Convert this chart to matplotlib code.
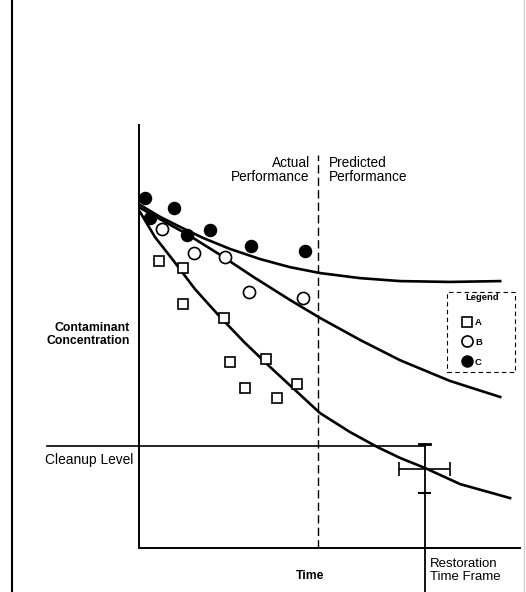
import matplotlib.pyplot as plt
from matplotlib.lines import Line2D
from matplotlib.patches import Rectangle

plt.rcParams['font.family'] = ['Liberation Sans', 'DejaVu Sans']

# monitoring data (time, concentration) in arbitrary units
a_time = [0.52, 1.15, 1.15, 2.23, 2.39, 3.33, 2.78, 3.62, 4.15]
a_conc = [6.78, 6.62, 5.77, 5.44, 4.40, 4.47, 3.78, 3.55, 3.88]
b_time = [0.60, 1.44, 2.26, 2.89, 4.30]
b_conc = [7.54, 6.97, 6.88, 6.05, 5.91]
c_time = [0.16, 0.29, 0.92, 1.26, 1.86, 2.94, 4.36]
c_conc = [8.27, 7.80, 8.04, 7.40, 7.52, 7.14, 7.02]

# trend curves
a_fit_t = [0.03, 0.42, 0.89, 1.47, 2.13, 2.78, 3.44, 4.09, 4.75, 5.54, 6.25, 6.85, 7.51, 8.43, 9.74]
a_fit_c = [7.94, 7.35, 6.81, 6.12, 5.46, 4.85, 4.28, 3.74, 3.19, 2.74, 2.39, 2.13, 1.89, 1.51, 1.18]
b_fit_t = [0.03, 0.68, 1.26, 2.13, 3.00, 3.97, 4.75, 5.80, 6.85, 8.16, 9.48]
b_fit_c = [8.04, 7.71, 7.42, 6.93, 6.41, 5.86, 5.44, 4.92, 4.44, 3.95, 3.57]
c_fit_t = [0.03, 0.55, 1.08, 1.68, 2.39, 3.18, 3.96, 4.75, 5.80, 6.85, 8.16, 9.48]
c_fit_c = [8.11, 7.83, 7.59, 7.33, 7.07, 6.83, 6.64, 6.50, 6.38, 6.31, 6.29, 6.31]

cleanup_level = 2.41
now_time = 4.7
restore_time = 7.5
restore_conc = 1.87
restore_xerr = 0.67
restore_lo = 1.30

fig = plt.figure(figsize=(5.26, 5.92), dpi=100)
W, H = 526, 592
ax = fig.add_axes([139 / W, (H - 548) / H, (520 - 139) / W, (548 - 125) / H])
ax.set_xlim(0, 10)
ax.set_ylim(0, 10)
ax.set_xticks([])
ax.set_yticks([])
ax.spines['top'].set_visible(False)
ax.spines['right'].set_visible(False)
ax.spines['left'].set_linewidth(1.4)
ax.spines['bottom'].set_linewidth(1.4)

ax.plot(a_fit_t, a_fit_c, color='black', lw=1.9)
ax.plot(b_fit_t, b_fit_c, color='black', lw=1.9)
ax.plot(c_fit_t, c_fit_c, color='black', lw=1.9)

ax.plot(a_time, a_conc, 's', ms=7.3, mfc='white', mec='black', mew=1.2, ls='none')
ax.plot(b_time, b_conc, 'o', ms=8.7, mfc='white', mec='black', mew=1.2, ls='none')
ax.plot(c_time, c_conc, 'o', ms=8.7, mfc='black', mec='black', ls='none')

# actual / predicted divider
ax.plot([now_time, now_time], [0, 9.3], color='black', lw=1, ls=(0, (6, 3)))
ax.text(now_time - 0.22, 8.93, 'Actual\nPerformance', ha='right', va='center',
        fontsize=9.8, linespacing=1.02)
ax.text(now_time + 0.28, 8.93, 'Predicted\nPerformance', ha='left', va='center',
        fontsize=9.8, linespacing=1.02)

# cleanup level
ax.plot([-2.42, restore_time], [cleanup_level, cleanup_level], color='black', lw=1.2, clip_on=False)
ax.text(-2.47, cleanup_level - 0.33, 'Cleanup Level', ha='left', va='center', fontsize=9.9)

# restoration time frame
ax.plot([restore_time, restore_time], [cleanup_level + 0.05, -1.1], color='black', lw=1.3, clip_on=False)
ax.errorbar(restore_time, restore_conc, xerr=restore_xerr, color='black', lw=1.2,
            capsize=5, capthick=1.2)
ax.plot([restore_time - 0.15, restore_time + 0.15], [cleanup_level + 0.05] * 2, color='black', lw=2)
ax.plot([restore_time - 0.15, restore_time + 0.15], [restore_lo] * 2, color='black', lw=1.5)
ax.text(restore_time + 0.13, -0.54, 'Restoration\nTime Frame', ha='left', va='center',
        fontsize=9.5, linespacing=1.1)

ax.text(now_time - 0.2, -0.67, 'Time', ha='center', va='center', fontsize=8.8, fontweight='bold')
ax.text(-0.23, 5.05, 'Contaminant\nConcentration', ha='right', va='center', fontsize=8.8,
        fontweight='bold', linespacing=1.1)

handles = [
    Line2D([], [], marker='s', ms=7, mfc='white', mec='black', mew=1.2, ls='none'),
    Line2D([], [], marker='o', ms=8, mfc='white', mec='black', mew=1.2, ls='none'),
    Line2D([], [], marker='o', ms=8, mfc='black', mec='black', ls='none'),
]
leg = ax.legend(handles, ['A', 'B', 'C'], loc='upper left',
                bbox_to_anchor=(460 / W, (H - 316) / H), bbox_transform=fig.transFigure,
                frameon=False, prop={'weight': 'bold', 'size': 6.8},
                handlelength=1.0, handletextpad=0.4, labelspacing=1.15, borderpad=0.2,
                borderaxespad=0)
fig.text(482 / W, (H - 298) / H, 'Legend', ha='center', va='center', fontsize=6.8,
         fontweight='bold')
fig.add_artist(Rectangle((447 / W, (H - 372) / H), 68 / W, 80 / H, transform=fig.transFigure,
                         fill=False, edgecolor='black', lw=0.8, ls=(0, (4, 3))))

# page frame
fig.add_artist(Line2D([12 / W, 12 / W], [0, 1], color='black', lw=1.5))
fig.add_artist(Line2D([524 / W, 524 / W], [0, 1], color='#cccccc', lw=1))

fig.savefig('out.png', dpi=100)
